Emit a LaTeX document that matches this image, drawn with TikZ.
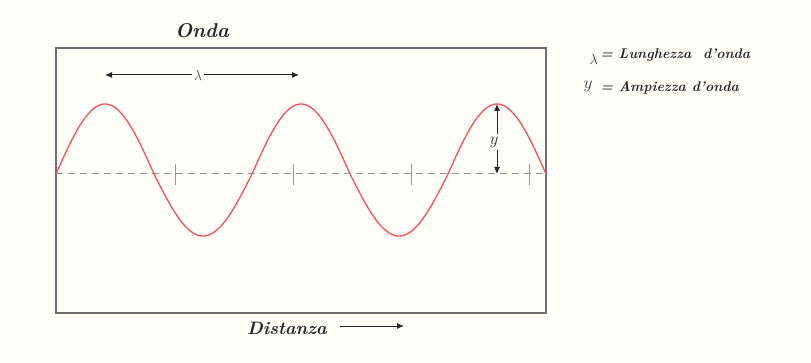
\documentclass[tikz,border=0pt]{standalone}
\usepackage{fontspec}
\usetikzlibrary{arrows.meta}
\definecolor{bg}{RGB}{255,255,248}
\definecolor{wavecol}{RGB}{250,80,90}
\definecolor{framecol}{RGB}{110,110,110}
\definecolor{dashcol}{RGB}{150,150,150}
\tikzset{
  hand/.style={font=\itshape\bfseries, text=black!85},
  arr/.style={-{Latex[length=7pt,width=6pt]}, line width=1pt, black!85},
  tickmark/.style={line width=0.8pt, dashcol},
}
\begin{document}
\begin{tikzpicture}[x=1pt,y=-1pt]
\fill[bg] (0,0) rectangle (811,363);
\useasboundingbox (0,0) rectangle (811,363);
% frame
\draw[framecol, line width=2pt] (56,48) rectangle (546,313);
% midline
\draw[dashcol, line width=1pt, dash pattern=on 7pt off 5pt] (56,174) -- (546,174);
\foreach \t in {175,293,411,529} \draw[tickmark] (\t,164) -- (\t,185);
% wave
\draw[wavecol, line width=1.3pt] plot[domain=0:900, samples=300, smooth]
  ({56+\x/1.836735}, {174 - (sin(\x) > 0 ? 70 : 62)*sin(\x)});
% title
\node[hand, font=\fontsize{20}{24}\selectfont\itshape\bfseries] (title) at (202,31) {Onda};
% lambda arrow
\coordinate (l1) at (105,75);
\coordinate (l2) at (299,75);
\node[fill=bg, inner sep=2pt, text=black!70, font=\fontsize{15}{18}\selectfont] (lam) at (198,76) {$\lambda$};
\draw[arr] (lam.west |- l1) -- (l1);
\draw[arr] (lam.east |- l2) -- (l2);
% amplitude arrow
\coordinate (ytop) at (497,104);
\coordinate (ybot) at (497,174);
\node[text=black!80, font=\fontsize{19}{22}\selectfont, inner sep=2pt] (ylab) at (494,142) {$y$};
\draw[arr] (ytop |- ylab.north) -- (ytop);
\draw[arr] (ybot |- ylab.south) -- (ybot);
% legend
\node[anchor=west, text=black!80, font=\fontsize{15}{18}\selectfont] (leg1l) at (586,60) {$\lambda$};
\node[anchor=west, hand, font=\fontsize{14}{17}\selectfont\itshape\bfseries] (leg1) at (597,55) {= Lunghezza\ \ d'onda};
\node[anchor=west, text=black!80, font=\fontsize{19}{22}\selectfont] (leg2l) at (580,86) {$y$};
\node[anchor=west, hand, font=\fontsize{14}{17}\selectfont\itshape\bfseries] (leg2) at (597,88) {= Ampiezza d'onda};
% distance
\node[hand, font=\fontsize{18}{22}\selectfont\itshape\bfseries] (dist) at (287,328) {Distanza};
\coordinate (dstart) at (340,326);
\coordinate (dend) at (404,326);
\draw[arr] (dstart) -- (dend);
\end{tikzpicture}
\end{document}
